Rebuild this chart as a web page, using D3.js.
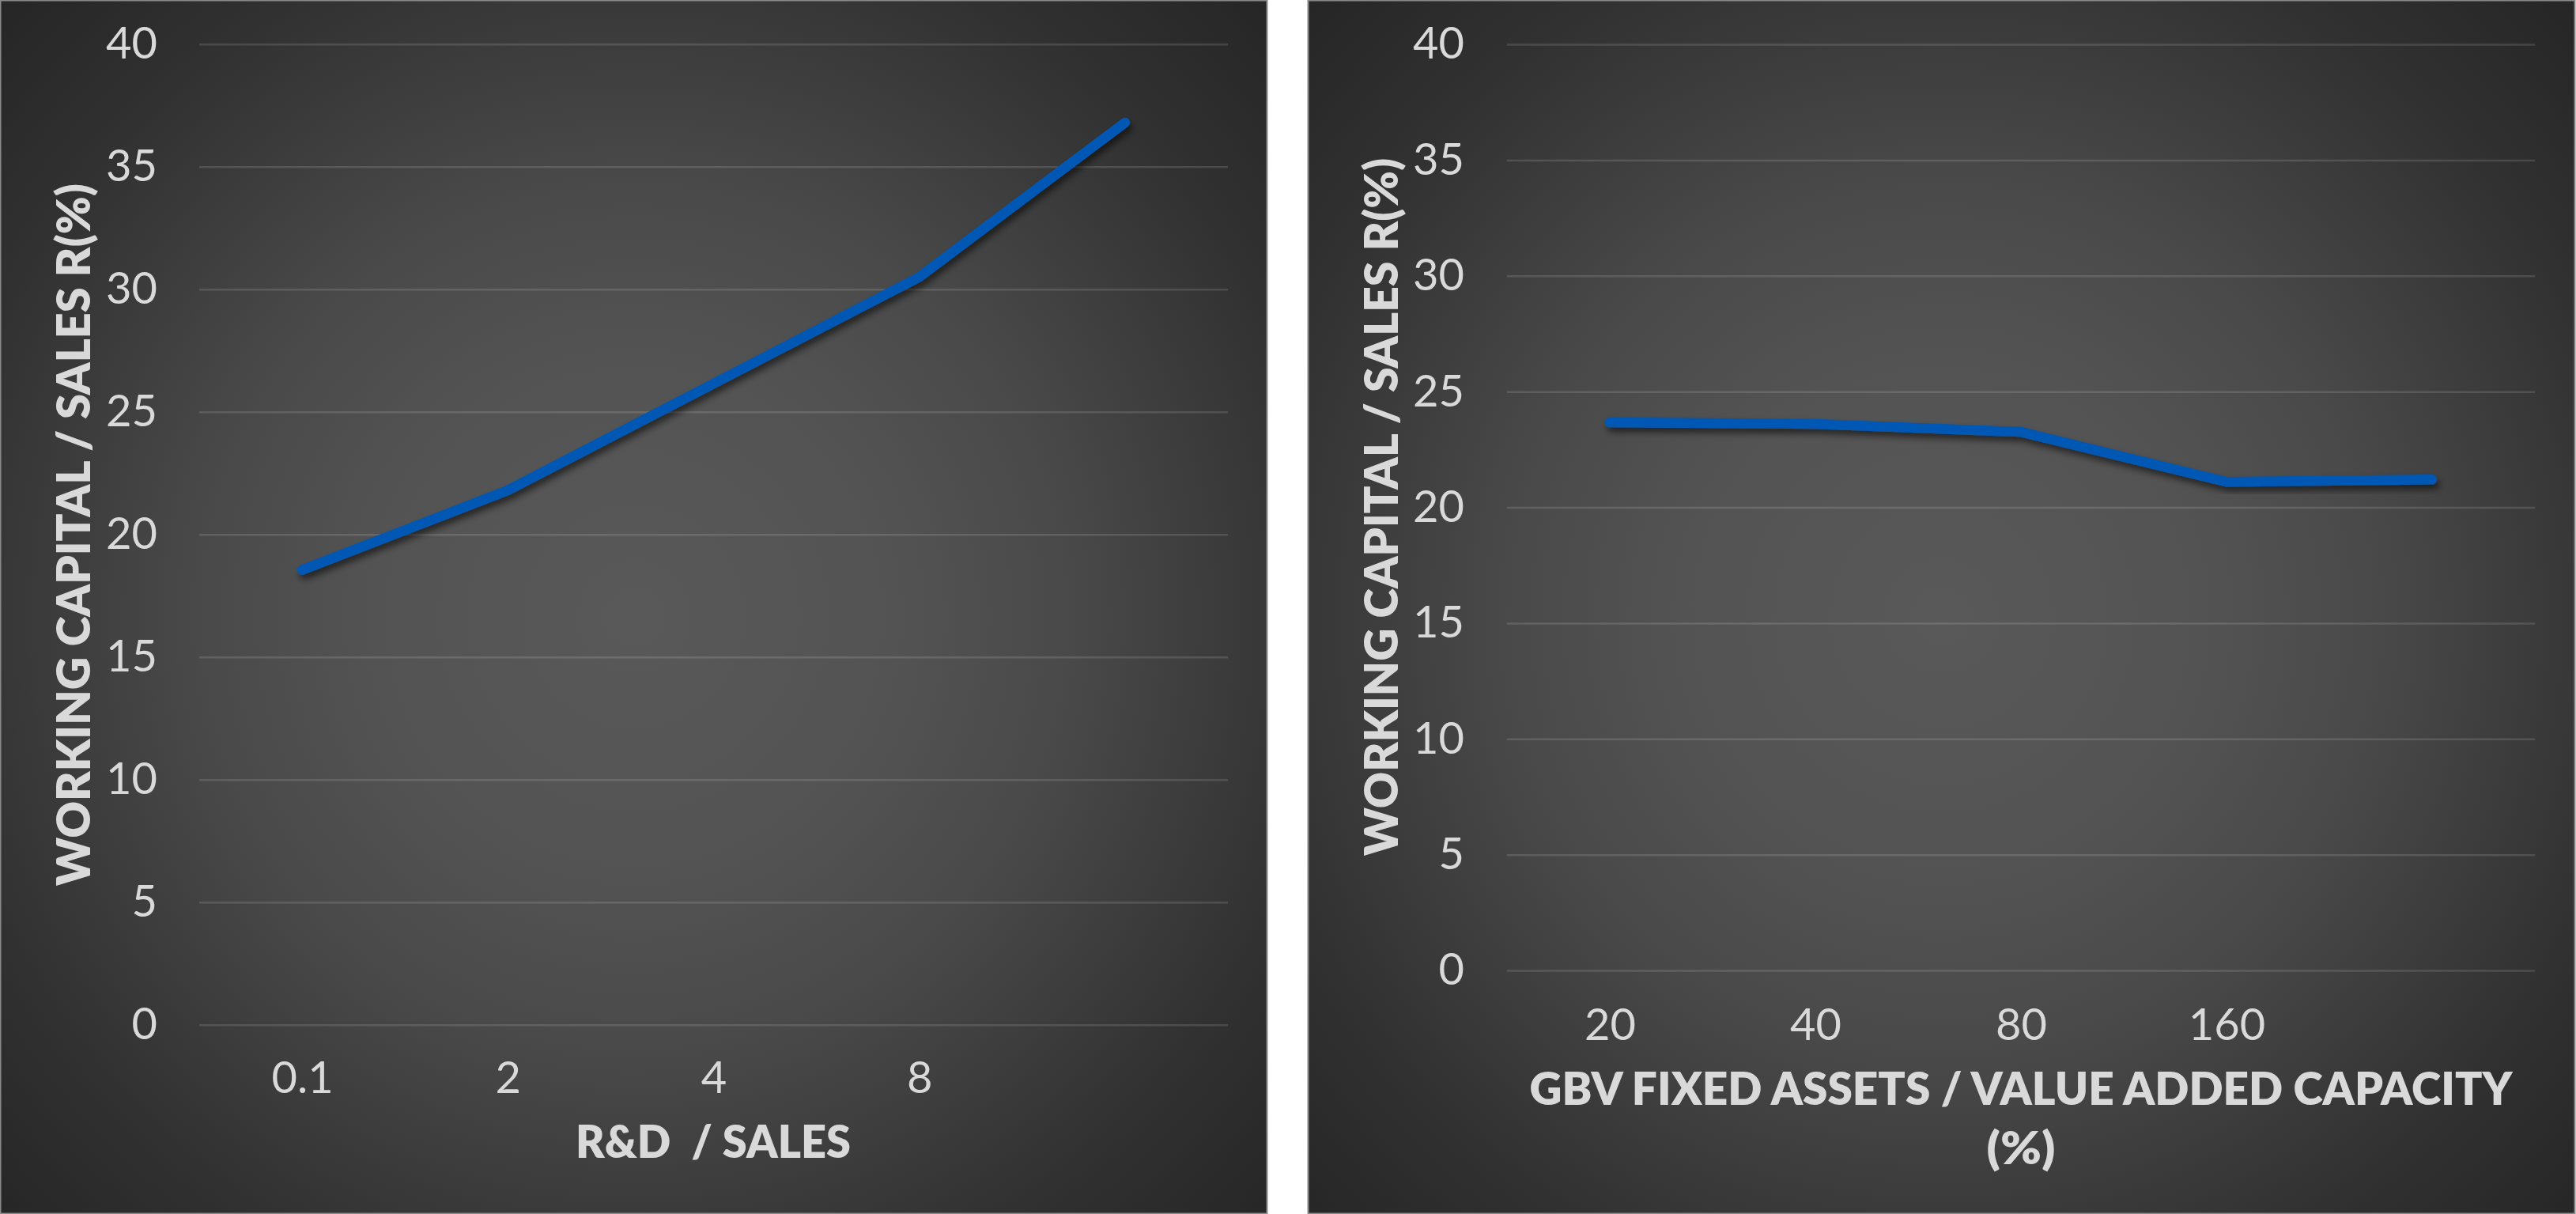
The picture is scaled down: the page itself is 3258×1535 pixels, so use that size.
<!DOCTYPE html>
<html>
<head>
<meta charset="utf-8">
<script src="https://cdn.jsdelivr.net/npm/d3@7"></script>
<style>
  html, body { margin: 0; padding: 0; background: #ffffff; }
  svg { display: block; }
  text { white-space: pre; }
</style>
</head>
<body>
<svg id="chart" width="3258" height="1535"></svg>
<script>
// ---- data ----
const yTicks = [0, 5, 10, 15, 20, 25, 30, 35, 40];

const rdCategories = ["0.1", "2", "4", "8", ""];
const rdValues = [18.55, 21.8, 26.15, 30.5, 36.8];

const gbvCategories = ["20", "40", "80", "160", ""];
const gbvValues = [23.67, 23.6, 23.26, 21.1, 21.2];

const yTitle = "WORKING CAPITAL / SALES R(%)";
const rdTitle = ["R&D  / SALES"];
const gbvTitle = ["GBV FIXED ASSETS / VALUE ADDED CAPACITY", "(%)"];

// ---- drawing ----
const svg = d3.select("#chart");
const defs = svg.append("defs");

const shadow = defs.append("filter").attr("id", "shadow")
  .attr("x", "-10%").attr("y", "-10%").attr("width", "120%").attr("height", "130%");
shadow.append("feDropShadow")
  .attr("dx", 3).attr("dy", 6).attr("stdDeviation", 4)
  .attr("flood-color", "#000").attr("flood-opacity", 0.55);

const panels = [
  {
    id: "L", x0: 0, w: 1603, h: 1535,
    plot: { left: 252, right: 1553, top: 55.7, bottom: 1295.7 },
    cats: rdCategories, vals: rdValues,
    yTitle: { x: 93, y: 676, len: 888 },
    xTitle: { lines: rdTitle, x: 902, y: [1443], len: [348] },
    tickRight: 199, xLabelDy: 67
  },
  {
    id: "R", x0: 1654, w: 1603, h: 1535,
    plot: { left: 1906, right: 3206, top: 56, bottom: 1227 },
    cats: gbvCategories, vals: gbvValues,
    yTitle: { x: 1747, y: 641, len: 882 },
    xTitle: { lines: gbvTitle, x: 2556, y: [1376.5, 1451], len: [1243, 87] },
    tickRight: 1852, xLabelDy: 68
  }
];

const textColor = "#d9d9d9";

panels.forEach(p => {
  // background radial gradient
  const cx = p.x0 + p.w / 2, cy = 780;
  const grad = defs.append("radialGradient").attr("id", "bg" + p.id)
    .attr("gradientUnits", "userSpaceOnUse")
    .attr("cx", cx).attr("cy", cy).attr("r", 1110);
  [[0, "#595959"], [0.3, "#535353"], [0.5, "#494949"], [0.65, "#3d3d3d"], [0.8, "#313131"], [1, "#262626"]]
    .forEach(([o, c]) => grad.append("stop").attr("offset", o).attr("stop-color", c));

  const g = svg.append("g");
  g.append("rect")
    .attr("x", p.x0 + 0.5).attr("y", 0.5).attr("width", p.w - 1).attr("height", p.h - 1)
    .attr("fill", `url(#bg${p.id})`).attr("stroke", "#8a8a8a").attr("stroke-width", 2);

  const x = d3.scalePoint().domain(d3.range(p.cats.length))
    .range([p.plot.left, p.plot.right]).padding(0.5);
  const y = d3.scaleLinear().domain([0, 40]).range([p.plot.bottom, p.plot.top]);

  // gridlines + y tick labels via axis
  const yAxis = d3.axisLeft(y).tickValues(yTicks).tickFormat(d3.format("d"))
    .tickSize(-(p.plot.right - p.plot.left)).tickPadding(p.plot.left - p.tickRight);
  const ya = g.append("g").attr("transform", `translate(${p.plot.left},0)`).call(yAxis);
  ya.select(".domain").remove();
  ya.selectAll(".tick line").attr("stroke", "rgba(255,255,255,0.13)").attr("stroke-width", 2.5);
  ya.selectAll(".tick text")
    .attr("fill", textColor)
    .attr("font-family", "Lato, 'Open Sans', sans-serif")
    .attr("font-weight", 400)
    .attr("font-size", 56)
    .attr("dy", "0.32em");

  // x axis labels
  const xAxis = d3.axisBottom(x).tickFormat(i => p.cats[i]).tickSize(0).tickPadding(0);
  const xa = g.append("g").attr("transform", `translate(0,${p.plot.bottom + p.xLabelDy})`).call(xAxis);
  xa.select(".domain").remove();
  xa.selectAll(".tick text")
    .attr("fill", textColor)
    .attr("font-family", "Lato, 'Open Sans', sans-serif")
    .attr("font-weight", 400)
    .attr("font-size", 56)
    .attr("y", 0)
    .attr("dy", "0.35em");

  // line
  const line = d3.line().x((d, i) => x(i)).y(d => y(d));
  g.append("path").datum(p.vals)
    .attr("d", line)
    .attr("fill", "none")
    .attr("stroke", "#0058b4")
    .attr("stroke-width", 12.5)
    .attr("stroke-linecap", "round")
    .attr("stroke-linejoin", "round")
    .attr("filter", "url(#shadow)");

  // y title
  g.append("text")
    .attr("transform", `translate(${p.yTitle.x},${p.yTitle.y}) rotate(-90)`)
    .attr("text-anchor", "middle")
    .attr("dy", "0.36em")
    .attr("fill", textColor)
    .attr("font-family", "Lato, 'Open Sans', sans-serif")
    .attr("font-weight", 800)
    .attr("font-size", 58)
    .attr("textLength", p.yTitle.len)
    .attr("lengthAdjust", "spacingAndGlyphs")
    .text(yTitle);

  // x title
  p.xTitle.lines.forEach((t, k) => {
    g.append("text")
      .attr("x", p.xTitle.x).attr("y", p.xTitle.y[k])
      .attr("text-anchor", "middle")
      .attr("dy", "0.36em")
      .attr("fill", textColor)
      .attr("font-family", "Lato, 'Open Sans', sans-serif")
      .attr("font-weight", 800)
      .attr("font-size", 57)
      .attr("textLength", p.xTitle.len[k])
      .attr("lengthAdjust", "spacingAndGlyphs")
      .text(t);
  });
});
</script>
</body>
</html>
